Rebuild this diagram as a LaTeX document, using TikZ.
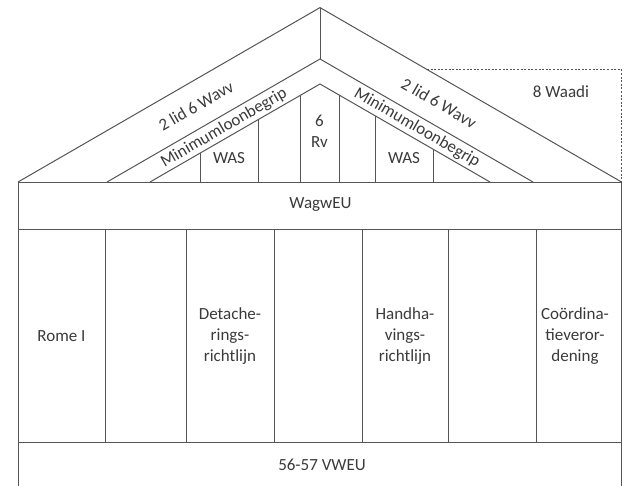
\documentclass[tikz,border=0pt]{standalone}
\usepackage{fontspec}
\setmainfont{Carlito}
\usetikzlibrary{calc}

\definecolor{lineg}{HTML}{555555}
\definecolor{textg}{HTML}{3A3A3A}

\tikzset{
  wall/.style={draw=lineg, line width=1pt},
  label/.style={text=textg, font=\fontsize{17}{21}\selectfont, inner sep=0pt, align=center},
  border/.style={draw=lineg, line width=1pt, dash pattern=on 2pt off 1.6pt}
}

\begin{document}
\begin{tikzpicture}[x=1pt,y=-1pt]
\useasboundingbox (0,0) rectangle (624,485);
% roof
\coordinate (apex) at (320,7.6);
\coordinate (oL) at (18,182);   \coordinate (oR) at (621.5,182);
\coordinate (mtop) at (320,59); \coordinate (mL) at (107,182); \coordinate (mR) at (533,182);
\coordinate (itop) at (320,84); \coordinate (iL) at (150,182); \coordinate (iR) at (490,182);
\draw[wall] (oL) -- (apex) -- (oR);
\draw[wall] (apex) -- (mtop);
\draw[wall] (mL) -- (mtop) -- (mR);
\draw[wall] (iL) -- (itop) -- (iR);
\foreach \x in {200,258,300,339,375,433}
  \draw[wall] (\x,182) -- (\x,{84+abs(\x-320)*0.5774});
% 8 Waadi
\coordinate (wa) at (427,69.4);
\coordinate (wb) at (621.5,69.4);
\draw[border] (wa) -- (wb) -- (oR);
% bands and pillars
\draw[wall] (oL) rectangle (621.5,229);
\draw[wall] (18,229) rectangle (621.5,442);
\foreach \x in {105,186,274,362,448,536}
  \draw[wall] (\x,229) -- (\x,442);
\draw[wall] (18,442) -- (18,490);
\draw[wall] (621.5,442) -- (621.5,490);
% texts
\node[label, rotate=30] (wavvL) at (196,106) {2 lid 6 Wavv};
\node[label, rotate=-30] (wavvR) at (439,103) {2 lid 6 Wavv};
\node[label, rotate=30] (minL) at (224,128) {Minimumloonbegrip};
\node[label, rotate=-30] (minR) at (417,128) {Minimumloonbegrip};
\node[label] (wasL) at (229,158) {WAS};
\node[label] (wasR) at (404,158) {WAS};
\node[label] (rv) at (319.5,131) {6\\Rv};
\node[label] (waadi) at (561,92) {8 Waadi};
\node[label] (wagw) at (320.5,205) {WagwEU};
\node[label] (rome) at (61.5,336) {Rome I};
\node[label] (detach) at (230,336) {Detache-\\rings-\\richtlijn};
\node[label] (handh) at (405,336) {Handha-\\vings-\\richtlijn};
\node[label] (coord) at (575,336) {Coördina-\\tieveror-\\dening};
\node[label] (vweu) at (322,465) {56-57 VWEU};
\end{tikzpicture}
\end{document}
